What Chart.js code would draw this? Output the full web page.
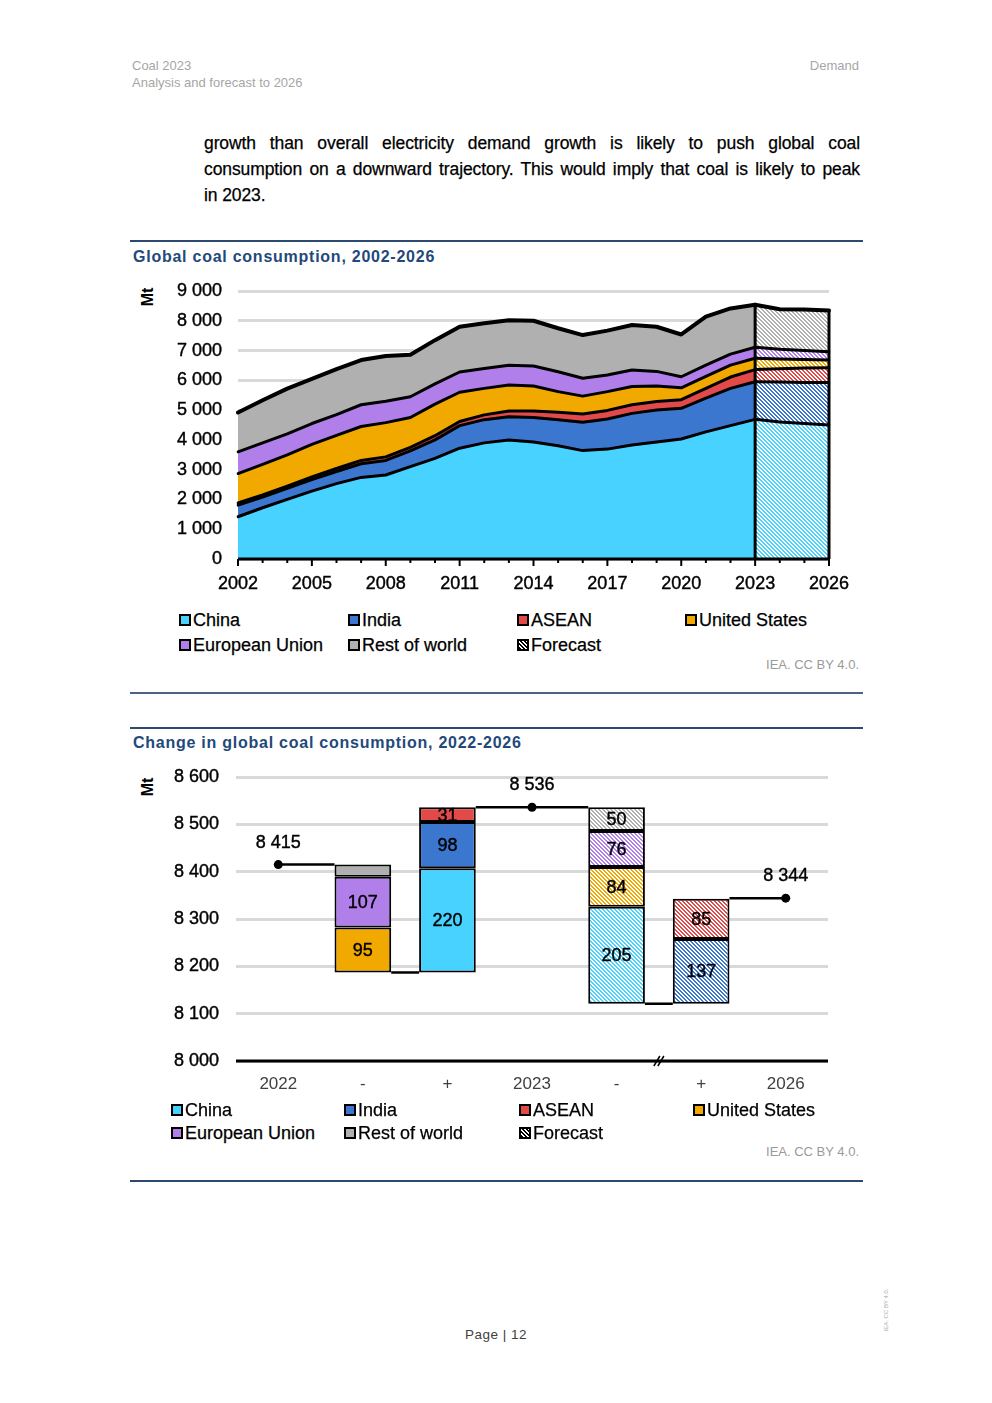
<!DOCTYPE html>
<html>
<head>
<meta charset="utf-8">
<script src="https://cdn.jsdelivr.net/npm/chart.js@4.4.0/dist/chart.umd.min.js"></script>
<style>
  body { margin: 0; background: #fff; font-family: "Liberation Sans", Arial, sans-serif; }
  #page { position: relative; width: 992px; height: 1403px; overflow: hidden; background: #fff; }
  .abs { position: absolute; white-space: nowrap; }
  .hdr { color: #a6a6a6; font-size: 13px; line-height: 16px; }
  .para { left: 204px; width: 656px; font-size: 17.5px; letter-spacing: -0.1px; color: #000; line-height: 26px; white-space: normal; -webkit-text-stroke: 0.25px #000; }
  .para div { text-align: justify; text-align-last: justify; white-space: nowrap; }
  .para div.last { text-align-last: left; }
  .rule { left: 130px; width: 733px; height: 2px; background: #2c4a70; }
  .title { left: 133px; font-size: 16px; font-weight: bold; color: #23497a; letter-spacing: 0.75px; line-height: 20px; }
  .mt { font-size: 16px; font-weight: bold; color: #000; transform: translate(-50%, -50%) rotate(-90deg); line-height: 18px; }
  .leg { font-size: 18px; color: #000; line-height: 20px; display: flex; align-items: center; -webkit-text-stroke: 0.25px #000; }
  .box { width: 8px; height: 8px; border: 2px solid #000; margin-right: 2px; display: inline-block; }
  .src { font-size: 13px; color: #9a9a9a; line-height: 16px; }
  canvas { display: block; }
</style>
</head>
<body>
<div id="page">
  <div class="abs hdr" style="left:132px; top:58px;">Coal 2023</div>
  <div class="abs hdr" style="left:132px; top:75px;">Analysis and forecast to 2026</div>
  <div class="abs hdr" style="right:133px; top:58px;">Demand</div>

  <div class="abs para" style="top:130px;">
    <div>growth than overall electricity demand growth is likely to push global coal</div>
    <div>consumption on a downward trajectory. This would imply that coal is likely to peak</div>
    <div class="last">in 2023.</div>
  </div>

  <div class="abs rule" style="top:240px;"></div>
  <div class="abs title" style="top:247px;">Global coal consumption, 2002-2026</div>
  <div class="abs mt" style="left:148px; top:297px;">Mt</div>
  <div class="abs" style="left:130px; top:270px; width:730px; height:330px;"><canvas id="c1" width="730" height="330"></canvas></div>
  <div id="leg1"></div>
  <div class="abs src" style="right:133px; top:657px;">IEA. CC BY 4.0.</div>
  <div class="abs rule" style="top:692px; height:1.5px; background:#4a6584;"></div>

  <div class="abs rule" style="top:727px;"></div>
  <div class="abs title" style="top:733px;">Change in global coal consumption, 2022-2026</div>
  <div class="abs mt" style="left:148px; top:787px;">Mt</div>
  <div class="abs" style="left:130px; top:765px; width:730px; height:340px;"><canvas id="c2" width="730" height="340"></canvas></div>
  <div id="leg2"></div>
  <div class="abs src" style="right:133px; top:1144px;">IEA. CC BY 4.0.</div>
  <div class="abs rule" style="top:1180px;"></div>

  <div class="abs" style="left:496px; top:1327px; transform:translateX(-50%); font-size:13.5px; color:#404040; letter-spacing:0.5px;">Page | 12</div>
  <div class="abs" style="left:886px; top:1310px; transform:translate(-50%,-50%) rotate(-90deg); font-size:6px; color:#aaa;">IEA. CC BY 4.0.</div>
</div>

<script>
// ---------------- Data: Global coal consumption (Mt) ----------------
const years = ['2002','2003','2004','2005','2006','2007','2008','2009','2010','2011','2012','2013','2014','2015','2016','2017','2018','2019','2020','2021','2022','2023','2024','2025','2026'];
const china = [1420,1720,2000,2280,2530,2740,2820,3100,3380,3720,3900,4000,3930,3800,3640,3690,3830,3930,4030,4270,4480,4690,4600,4550,4500];
const india = [390,360,370,390,410,460,490,530,620,760,780,780,820,880,950,1010,1060,1070,1030,1130,1250,1260,1340,1380,1430];
const asean = [70,70,80,90,100,110,120,120,140,140,160,190,220,250,280,290,290,290,290,330,380,410,450,480,495];
const unitedStates = [990,1030,1050,1090,1110,1140,1150,1000,1060,980,890,870,840,690,600,630,610,520,400,400,400,380,330,290,255];
const europeanUnion = [730,720,700,700,700,730,720,700,680,680,670,670,670,670,600,560,560,490,370,380,370,370,320,300,280];
const restOfWorld = [1320,1430,1520,1500,1530,1500,1520,1410,1470,1520,1520,1510,1520,1460,1450,1490,1510,1500,1420,1630,1535,1426,1350,1380,1384];
const forecastFrom = '2023';
const yTicks1 = [0,1000,2000,3000,4000,5000,6000,7000,8000,9000];

// ---------------- Data: Change in global coal consumption ----------------
const wfLabels = ['2022','-','+','2023','-','+','2026'];
const wfTotals = [8415, 8536, 8344];
const regions = ['China','India','ASEAN','United States','European Union','Rest of world'];
const change2022to2023 = [220, 98, 31, -95, -107, -26];
const change2023to2026 = [-205, 137, 85, -84, -76, -50];
const yTicks2 = [8000,8100,8200,8300,8400,8500,8600];

const colors = ['#48d2ff','#3b76cf','#e24a4a','#f1a900','#b07fea','#b0b0b0'];

Chart.defaults.font.family = '"Liberation Sans", Arial, sans-serif';
Chart.defaults.color = '#000';

function fmt(v){ return String(v).replace(/\B(?=(\d{3})+(?!\d))/g, ' '); }
function noPad(s){ s.paddingLeft = 0; s.paddingRight = 0; s.paddingTop = 0; s.paddingBottom = 0; }

function makePattern(color){
  const c = document.createElement('canvas');
  c.width = 4; c.height = 4;
  const g = c.getContext('2d');
  g.fillStyle = '#ffffff'; g.fillRect(0,0,4,4);
  g.fillStyle = color;
  for (let y=0; y<4; y++) for (let x=0; x<4; x++){
    const d = ((x - y) % 4 + 4) % 4;
    if (d === 0 || d === 1) g.fillRect(x,y,1,1);
  }
  return g.createPattern(c, 'repeat');
}

// ---------------- Legends (HTML) ----------------
function buildLegend(id, cols, rows){
  const host = document.getElementById(id);
  const names = regions.concat(['Forecast']);
  names.forEach((n,i)=>{
    const r = Math.floor(i/4), cIdx = i%4;
    const d = document.createElement('div');
    d.className = 'abs leg';
    d.style.left = cols[cIdx] + 'px';
    d.style.top = (rows[r] - 10) + 'px';
    const b = document.createElement('span');
    b.className = 'box';
    if (i < 6) b.style.background = colors[i];
    else b.style.background = 'repeating-linear-gradient(45deg,#000 0 1.5px,#fff 1.5px 3px)';
    d.appendChild(b);
    d.appendChild(document.createTextNode(n));
    host.appendChild(d);
  });
}
buildLegend('leg1', [179, 348, 517, 685], [620, 645]);
buildLegend('leg2', [171, 344, 519, 693], [1110, 1133]);

const tickStroke = { textStrokeColor: '#000', textStrokeWidth: 0.4 };

// ---------------- Chart 1 ----------------
const seriesList = [china, india, asean, unitedStates, europeanUnion, restOfWorld];
const fIdx = years.indexOf(forecastFrom);
const datasets1 = [];
seriesList.forEach((arr,k)=>{
  datasets1.push({
    label: regions[k], data: arr.map((v,i)=> i<=fIdx ? v : null),
    backgroundColor: colors[k], borderColor: '#000', borderWidth: k===5 ? 4 : 3,
    fill: k===0 ? 'origin' : '-1', stack: 'hist', pointRadius: 0, tension: 0,
    borderJoinStyle: 'round', borderCapStyle: 'round'
  });
});
seriesList.forEach((arr,k)=>{
  datasets1.push({
    label: regions[k] + ' (forecast)', data: arr.map((v,i)=> i>=fIdx ? v : null),
    backgroundColor: makePattern(colors[k]), borderColor: '#000', borderWidth: k===5 ? 4 : 3,
    fill: k===0 ? 'origin' : '-1', stack: 'fc', pointRadius: 0, tension: 0,
    borderJoinStyle: 'round', borderCapStyle: 'round'
  });
});

const chart1Deco = {
  id: 'chart1Deco',
  afterDatasetsDraw(chart){
    const ctx = chart.ctx, xs = chart.scales.x, ys = chart.scales.y, ca = chart.chartArea;
    ctx.save();
    ctx.strokeStyle = '#000';
    ctx.lineWidth = 3;
    [fIdx, years.length-1].forEach(i=>{
      const tot = seriesList.reduce((s,a)=>s+a[i],0);
      const x = xs.getPixelForValue(i);
      ctx.beginPath(); ctx.moveTo(x, ys.getPixelForValue(0)); ctx.lineTo(x, ys.getPixelForValue(tot)); ctx.stroke();
    });
    const y0 = ys.getPixelForValue(0);
    ctx.lineWidth = 3;
    ctx.beginPath(); ctx.moveTo(ca.left, y0); ctx.lineTo(ca.right, y0); ctx.stroke();
    ctx.lineWidth = 2;
    for (let i=0;i<years.length;i++){
      const x = xs.getPixelForValue(i);
      const len = (i%3===0) ? 7 : 4;
      ctx.beginPath(); ctx.moveTo(x, y0); ctx.lineTo(x, y0+len); ctx.stroke();
    }
    ctx.restore();
  }
};

new Chart(document.getElementById('c1'), {
  type: 'line',
  data: { labels: years, datasets: datasets1 },
  options: {
    responsive: false, animation: false, devicePixelRatio: 1,
    layout: { padding: { left: 0, right: 31, top: 21, bottom: 0 } },
    plugins: { legend: { display: false }, tooltip: { enabled: false }, filler: { drawTime: 'beforeDatasetsDraw' } },
    scales: {
      x: {
        grid: { display: false, drawTicks: false }, border: { display: false },
        ticks: Object.assign({ autoSkip: false, maxRotation: 0, padding: 14, font: { size: 18 }, color: '#000',
          callback: (v,i)=> (i%3===0) ? years[i] : '' }, tickStroke),
        afterFit: s => { s.height = 41; noPad(s); }
      },
      y: {
        stacked: true, min: 0, max: 9000,
        afterBuildTicks: s => { s.ticks = yTicks1.map(v=>({value:v})); },
        grid: { color: '#d9d9d9', lineWidth: 3, drawTicks: false }, border: { display: false },
        ticks: Object.assign({ padding: 16, font: { size: 18 }, color: '#000', callback: v => fmt(v) }, tickStroke),
        afterFit: s => { s.width = 108; noPad(s); }
      }
    }
  },
  plugins: [chart1Deco]
});

// ---------------- Chart 2 (waterfall) ----------------
function buildStep(start, changes){
  const minus = regions.map(()=>null), plus = regions.map(()=>null);
  let level = start;
  for (let k=regions.length-1; k>=0; k--) if (changes[k] < 0){ minus[k] = [level+changes[k], level]; level += changes[k]; }
  const low = level;
  for (let k=0; k<regions.length; k++) if (changes[k] > 0){ plus[k] = [level, level+changes[k]]; level += changes[k]; }
  return { minus, plus, low, end: level };
}
const step1 = buildStep(wfTotals[0], change2022to2023);
const step2 = buildStep(wfTotals[1], change2023to2026);

const datasets2 = regions.map((r,k)=>({
  type: 'bar', label: r,
  data: [null, step1.minus[k], step1.plus[k], null, step2.minus[k], step2.plus[k], null],
  backgroundColor: [colors[k], colors[k], colors[k], colors[k], makePattern(colors[k]), makePattern(colors[k]), colors[k]],
  borderColor: '#000', borderWidth: 2, borderSkipped: false,
  barPercentage: 0.67, categoryPercentage: 1, stack: 'wf'
}));
datasets2.push({
  type: 'line', label: 'Total', data: [wfTotals[0], null, null, wfTotals[1], null, null, wfTotals[2]],
  showLine: false, pointRadius: 4.5, pointBackgroundColor: '#000', pointBorderColor: '#000', pointBorderWidth: 0
});

const chart2Deco = {
  id: 'chart2Deco',
  beforeDatasetsDraw(chart){
    const ctx = chart.ctx, xs = chart.scales.x, ys = chart.scales.y;
    const bw = chart.getDatasetMeta(0).data[1].width;
    const cx = i => xs.getPixelForValue(i);
    ctx.save();
    ctx.strokeStyle = '#000'; ctx.lineWidth = 2.5;
    const seg = (x1,x2,v)=>{ const y = ys.getPixelForValue(v); ctx.beginPath(); ctx.moveTo(x1,y); ctx.lineTo(x2,y); ctx.stroke(); };
    seg(cx(0), cx(1)-bw/2, wfTotals[0]);
    seg(cx(1)+bw/2, cx(2)-bw/2, step1.low);
    seg(cx(2)+bw/2, cx(4)-bw/2, wfTotals[1]);
    seg(cx(4)+bw/2, cx(5)-bw/2, step2.low);
    seg(cx(5)+bw/2, cx(6), wfTotals[2]);
    ctx.restore();
  },
  afterDatasetsDraw(chart){
    const ctx = chart.ctx, xs = chart.scales.x, ys = chart.scales.y, ca = chart.chartArea;
    ctx.save();
    const yb = ys.getPixelForValue(8000);
    ctx.strokeStyle = '#000'; ctx.lineWidth = 3;
    ctx.beginPath(); ctx.moveTo(ca.left, yb); ctx.lineTo(ca.right, yb); ctx.stroke();
    const xm = (xs.getPixelForValue(4) + xs.getPixelForValue(5)) / 2;
    ctx.lineWidth = 1.5;
    [-2, 2].forEach(o=>{ ctx.beginPath(); ctx.moveTo(xm+o-3, yb+5); ctx.lineTo(xm+o+3, yb-5); ctx.stroke(); });
    ctx.fillStyle = '#000'; ctx.strokeStyle = '#000'; ctx.font = '18px "Liberation Sans", Arial, sans-serif';
    ctx.textAlign = 'center'; ctx.textBaseline = 'middle';
    const label = (t,x,y)=>{ ctx.lineWidth = 0.4; ctx.fillText(t,x,y); ctx.strokeText(t,x,y); };
    for (let k=0; k<regions.length; k++){
      const meta = chart.getDatasetMeta(k);
      meta.data.forEach((el, i)=>{
        const d = chart.data.datasets[k].data[i];
        if (!d) return;
        const v = Math.round(Math.abs(d[1]-d[0]));
        if (v < 30) return;
        label(String(v), el.x, (el.y + el.base)/2 + 1);
      });
    }
    [0,3,6].forEach((i,j)=>{
      label(fmt(wfTotals[j]), xs.getPixelForValue(i), ys.getPixelForValue(wfTotals[j]) - 22);
    });
    ctx.restore();
  }
};

new Chart(document.getElementById('c2'), {
  type: 'bar',
  data: { labels: wfLabels, datasets: datasets2 },
  options: {
    responsive: false, animation: false, devicePixelRatio: 1,
    layout: { padding: { left: 0, right: 32, top: 12, bottom: 0 } },
    plugins: { legend: { display: false }, tooltip: { enabled: false } },
    scales: {
      x: {
        stacked: true,
        grid: { display: false, drawTicks: false }, border: { display: false },
        ticks: { padding: 13, font: { size: 17 }, color: '#404040' },
        afterFit: s => { s.height = 44; noPad(s); }
      },
      y: {
        stacked: false, min: 8000, max: 8600,
        afterBuildTicks: s => { s.ticks = yTicks2.map(v=>({value:v})); },
        grid: { color: '#d9d9d9', lineWidth: 3, drawTicks: false }, border: { display: false },
        ticks: Object.assign({ padding: 17, font: { size: 18 }, color: '#000', callback: v => fmt(v) }, tickStroke),
        afterFit: s => { s.width = 106; noPad(s); }
      }
    }
  },
  plugins: [chart2Deco]
});
</script>
</body>
</html>
